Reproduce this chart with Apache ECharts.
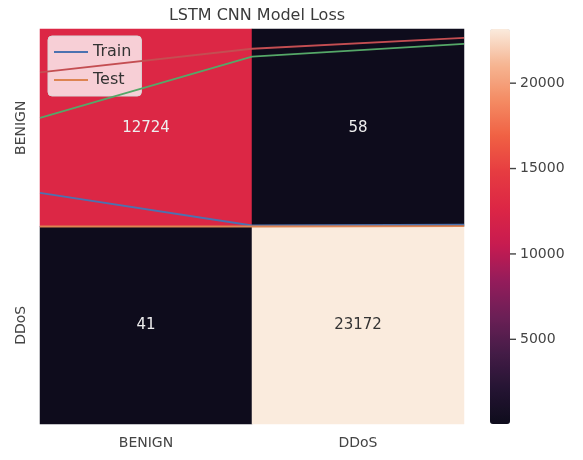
<!DOCTYPE html>
<html>
<head>
<meta charset="utf-8">
<script src="https://cdn.jsdelivr.net/npm/echarts@6/dist/echarts.min.js"></script>
<style>
  html, body { margin: 0; padding: 0; background: #fff; }
  #chart { width: 583px; height: 460px; }
</style>
</head>
<body>
<div id="chart"></div>
<script>
  // confusion matrix
  var classes = ['BENIGN', 'DDoS'];
  var matrix = [
    [12724, 58],
    [41, 23172]
  ];
  var colorTicks = [5000, 10000, 15000, 20000];

  // lines drawn over the heatmap (x = 0..2, y = 0..2 downwards)
  var epochs = [0, 1, 2];
  var trainLoss = [0.83, 0.995, 0.99];
  var testLoss = [1.0, 1.0, 0.998];
  var greenLine = [0.45, 0.14, 0.075];
  var redLine = [0.22, 0.1, 0.045];

  // rocket-like colormap
  var rocket = ['#0e0c1c', '#251433', '#451c47', '#6c1f56', '#951c5b', '#c81b50',
    '#dc2645', '#e63b41', '#f06043', '#f48b63', '#f6b592', '#faebdd'];

  var chart = echarts.init(document.getElementById('chart'));

  var cells = [];
  var vmin = Infinity, vmax = -Infinity;
  matrix.forEach(function (row, r) {
    row.forEach(function (v, c) {
      vmin = Math.min(vmin, v);
      vmax = Math.max(vmax, v);
      cells.push({
        value: [c, r, v],
        label: { color: v > 18000 ? '#333' : '#eee' }
      });
    });
  });

  function pts(ys) {
    return ys.map(function (y, i) { return [epochs[i], y]; });
  }

  function lineSeries(name, data, color) {
    return {
      name: name,
      type: 'line',
      xAxisIndex: 1,
      yAxisIndex: 1,
      data: pts(data),
      showSymbol: false,
      symbol: 'none',
      lineStyle: { color: color, width: 1.8 },
      itemStyle: { color: color },
      z: 5,
      silent: true
    };
  }

  var option = {
    animation: false,
    textStyle: { fontFamily: 'DejaVu Sans' },
    title: {
      text: 'LSTM CNN Model Loss',
      left: 252,
      textAlign: 'center',
      top: 3,
      textStyle: { fontSize: 16, fontWeight: 'normal', color: '#3a3a3a' }
    },
    legend: {
      data: ['Train', 'Test'],
      orient: 'vertical',
      left: 48,
      top: 36,
      icon: 'rect',
      itemWidth: 34,
      itemHeight: 2,
      itemGap: 12,
      padding: [8, 10, 8, 6],
      backgroundColor: 'rgba(255,255,255,0.78)',
      borderColor: '#d8d8d8',
      borderWidth: 1,
      borderRadius: 4,
      textStyle: { fontSize: 16, color: '#333' }
    },
    grid: [
      { left: 40, right: 119, top: 29, bottom: 36, outerBoundsMode: 'none' },
      { left: 490, width: 20, top: 29, bottom: 36, outerBoundsMode: 'none' }
    ],
    xAxis: [
      {
        type: 'category',
        data: classes,
        gridIndex: 0,
        axisLine: { show: false },
        axisTick: { show: false },
        splitArea: { show: false },
        axisLabel: { fontSize: 14, color: '#444', margin: 12 }
      },
      {
        type: 'value',
        gridIndex: 0,
        min: 0,
        max: 2,
        show: false
      },
      {
        type: 'value',
        gridIndex: 1,
        show: false
      }
    ],
    yAxis: [
      {
        type: 'category',
        data: classes,
        gridIndex: 0,
        inverse: true,
        axisLine: { show: false },
        axisTick: { show: false },
        axisLabel: { fontSize: 14, color: '#444', rotate: 90, margin: 12 }
      },
      {
        type: 'value',
        gridIndex: 0,
        min: 0,
        max: 2,
        inverse: true,
        show: false
      },
      {
        type: 'value',
        gridIndex: 1,
        position: 'right',
        min: vmin,
        max: vmax,
        z: 20,
        axisLine: { show: false },
        splitLine: { show: false },
        axisTick: { show: false },
        axisLabel: {
          customValues: colorTicks,
          margin: 0,
          formatter: function (v) { return '{t|}{n|' + v + '}'; },
          rich: {
            t: { width: 6, height: 1.4, backgroundColor: '#444', verticalAlign: 'middle' },
            n: { fontSize: 14, color: '#444', padding: [0, 0, 0, 4], verticalAlign: 'middle' }
          }
        }
      }
    ],
    visualMap: {
      type: 'continuous',
      min: vmin,
      max: vmax,
      seriesIndex: 0,
      calculable: false,
      left: 490,
      top: 29,
      z: 1,
      itemWidth: 20,
      itemHeight: 395,
      padding: 0,
      text: null,
      inRange: { color: rocket }
    },
    series: [
      {
        type: 'heatmap',
        xAxisIndex: 0,
        yAxisIndex: 0,
        data: cells,
        label: { show: true, fontSize: 15 },
        silent: true
      },
      lineSeries('Train', trainLoss, '#4c72b0'),
      lineSeries('Test', testLoss, '#dd8452'),
      lineSeries('green', greenLine, '#55a868'),
      lineSeries('red', redLine, '#c44e52')
    ]
  };

  chart.setOption(option);
</script>
</body>
</html>
